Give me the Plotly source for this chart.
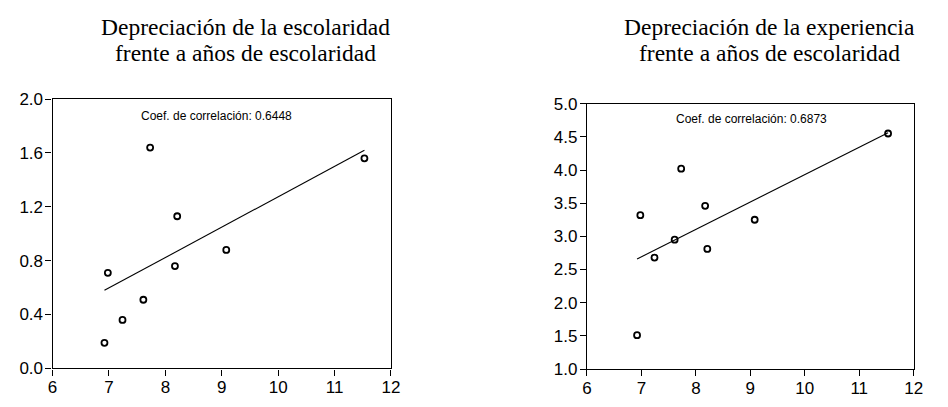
import numpy as np
import plotly.graph_objects as go

# Data
anios_escolaridad = [6.92, 6.98, 7.24, 7.61, 7.73, 8.17, 8.21, 9.08, 11.53]
dep_escolaridad = [0.19, 0.71, 0.36, 0.51, 1.64, 0.76, 1.13, 0.88, 1.56]
dep_experiencia = [1.51, 3.32, 2.68, 2.95, 4.02, 3.46, 2.81, 3.25, 4.55]

titulo_izq = ["Depreciación de la escolaridad", "frente a años de escolaridad"]
titulo_der = ["Depreciación de la experiencia", "frente a años de escolaridad"]
coef_izq = "Coef. de correlación: 0.6448"
coef_der = "Coef. de correlación: 0.6873"

ticks_x = [6, 7, 8, 9, 10, 11, 12]
ticks_y_izq = [0.0, 0.4, 0.8, 1.2, 1.6, 2.0]
ticks_y_der = [1.0, 1.5, 2.0, 2.5, 3.0, 3.5, 4.0, 4.5, 5.0]

W, H = 948, 407

def fit_line(x, y):
    x = np.asarray(x); y = np.asarray(y)
    b, a = np.polyfit(x, y, 1)
    xs = np.array([x.min(), x.max()])
    return xs, a + b * xs

fig = go.Figure()

for xa, ya, yvals in [("x", "y", dep_escolaridad), ("x2", "y2", dep_experiencia)]:
    lx, ly = fit_line(anios_escolaridad, yvals)
    fig.add_trace(go.Scatter(x=lx, y=ly, mode="lines", xaxis=xa, yaxis=ya,
                             line=dict(color="black", width=1.1), showlegend=False,
                             hoverinfo="skip"))
    fig.add_trace(go.Scatter(x=anios_escolaridad, y=yvals, mode="markers",
                             xaxis=xa, yaxis=ya, showlegend=False,
                             marker=dict(symbol="circle-open", size=6, color="black",
                                         line=dict(width=1.8, color="black"))))

tickfont = dict(family="Liberation Sans, Arial, sans-serif", size=17, color="black")
axis_common = dict(showline=True, linecolor="black", linewidth=1.3, mirror=True,
                   ticks="outside", ticklen=6, tickwidth=1, tickcolor="black",
                   showgrid=False, zeroline=False, tickfont=tickfont)

def px_x(p):
    return p / W

def px_y(p):
    return (H - p) / H

fig.update_layout(
    width=W, height=H,
    margin=dict(l=0, r=0, t=0, b=0),
    paper_bgcolor="white", plot_bgcolor="white",
    xaxis=dict(domain=[px_x(48.3), px_x(391.7)], range=[6, 12], tickvals=ticks_x,
               anchor="y", ticklabelstandoff=-3, **axis_common),
    yaxis=dict(domain=[px_y(377), px_y(94.5)], range=[0, 2], tickvals=ticks_y_izq,
               tickformat=".1f", anchor="x", ticklabelstandoff=-1, **axis_common),
    xaxis2=dict(domain=[px_x(590.7), px_x(922.3)], range=[6, 12], tickvals=ticks_x,
                anchor="y2", ticklabelstandoff=-3, **axis_common),
    yaxis2=dict(domain=[px_y(377.7), px_y(99.3)], range=[1, 5], tickvals=ticks_y_der,
                tickformat=".1f", anchor="x2", ticklabelstandoff=-1, **axis_common),
)

titlefont = dict(family="Liberation Serif, Times New Roman, serif", size=23.5, color="black")
for (cx, texts) in [(244, titulo_izq), (776, titulo_der)]:
    for i, t in enumerate(texts):
        fig.add_annotation(text=t, x=px_x(cx), y=px_y(19 + 27 * i), xref="paper", yref="paper",
                           showarrow=False, font=titlefont, xanchor="center", yanchor="middle")

coeffont = dict(family="Liberation Sans, Arial, sans-serif", size=12, color="black")
fig.add_annotation(text=coef_izq, x=0.485, y=0.937, xref="x domain", yref="y domain",
                   showarrow=False, font=coeffont, xanchor="center", yanchor="middle")
fig.add_annotation(text=coef_der, x=0.504, y=0.944, xref="x2 domain", yref="y2 domain",
                   showarrow=False, font=coeffont, xanchor="center", yanchor="middle")

fig.write_html("out.html", config={"displayModeBar": False},
               post_script="document.body.style.margin='0';document.body.style.overflow='hidden';")
